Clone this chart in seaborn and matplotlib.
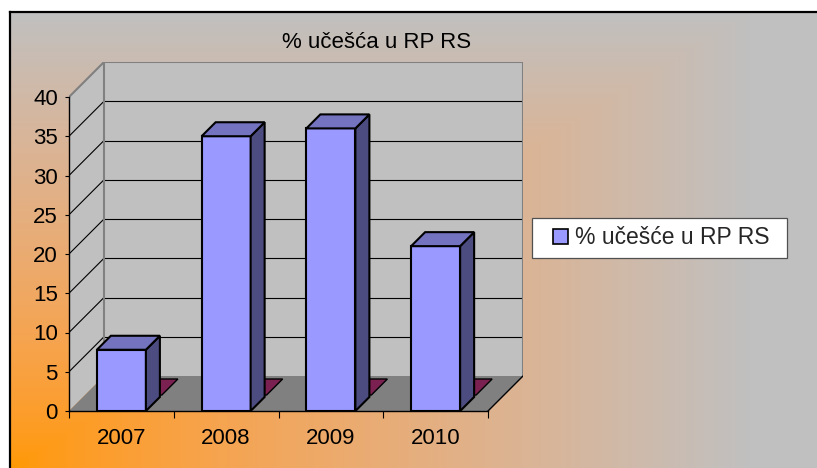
import numpy as np
import matplotlib
matplotlib.use("Agg")
import matplotlib.pyplot as plt
import seaborn as sns
from matplotlib.patches import Polygon, Rectangle, Patch

# ---------------- data ----------------
years = ["2007", "2008", "2009", "2010"]
share = [7.8, 35.0, 36.0, 21.0]          # % učešće u RP RS
series2 = [0.0, 0.0, 0.0, 0.0]           # empty second series (flat maroon tiles)
yticks = [0, 5, 10, 15, 20, 25, 30, 35, 40]
title = "% učešća u RP RS"
legend_label = "% učešće u RP RS"

# ---------------- style ----------------
W, H = 817, 468
sns.set_theme(style="white")
plt.rcParams['font.family'] = ['Liberation Sans', 'DejaVu Sans']

BAR_FRONT = "#9999FF"
BAR_TOP = "#7373C0"
BAR_SIDE = "#4C4C80"
MAROON = "#7A2152"
WALL = "#C0C0C0"
FLOOR = "#808080"
EDGE = "#808080"

fig = plt.figure(figsize=(W / 100, H / 100), dpi=100)
fig.patch.set_facecolor("white")

# background gradient (orange from bottom-left corner -> gray)
bg = fig.add_axes([0, 0, 1, 1], zorder=-10)
yy, xx = np.mgrid[0:H, 0:W]
t = np.maximum((xx - 10) / 740.0, (H - yy) / 456.0).clip(0, 1)
img = np.empty((H, W, 3))
img[..., 0] = (255 - 63 * t ** 1.5) / 255.0
img[..., 1] = (153 + 39 * t) / 255.0
img[..., 2] = (192 * t ** 0.7) / 255.0
img[(xx < 10) | (yy < 12)] = 1.0
bg.imshow(img, extent=(0, W, H, 0), aspect="auto", interpolation="nearest")
bg.set_xlim(0, W)
bg.set_ylim(H, 0)
bg.axis("off")
bg.plot([10, 10], [H + 5, 12], color="black", lw=1.6, solid_capstyle="projecting")
bg.plot([10, W + 5], [12, 12], color="black", lw=1.6, solid_capstyle="projecting")
# legend frame
bg.add_patch(Rectangle((532, 218), 255, 40, facecolor="white", edgecolor="#505050", lw=0.9))

# ---------------- main 3D-ish axes ----------------
x0, x1 = 69, 488        # front floor extent (px)
yb, yt = 411, 97        # value 0 and 40 on front plane (px)
D = 35                  # depth offset (px)
pxx = (x1 - x0) / 4.0
pxy = (yb - yt) / 40.0
Dx, Dy = D / pxx, D / pxy

ax = fig.add_axes([x0 / W, (H - yb) / H, (x1 + D - x0) / W, (yb - (yt - D)) / H])
ax.patch.set_alpha(0)

# walls & floor
ax.add_patch(Polygon([(-0.5, 0), (-0.5 + Dx, Dy), (-0.5 + Dx, 40 + Dy), (-0.5, 40)],
                     closed=True, facecolor=WALL, edgecolor="none", zorder=0))
ax.add_patch(Rectangle((-0.5 + Dx, Dy), 4, 40, facecolor=WALL, edgecolor="none", zorder=0))
ax.add_patch(Polygon([(-0.5, 0), (3.5, 0), (3.5 + Dx, Dy), (-0.5 + Dx, Dy)],
                     closed=True, facecolor=FLOOR, edgecolor="none", zorder=0.5))
for v in yticks[1:-1]:
    ax.plot([-0.5 + Dx, 3.5 + Dx], [v + Dy, v + Dy], color="black", lw=0.8, zorder=0.3)
    ax.plot([-0.5, -0.5 + Dx], [v, v + Dy], color="black", lw=0.8, zorder=0.3)
ax.plot([-0.5, -0.5 + Dx, 3.5 + Dx, 3.5 + Dx], [40, 40 + Dy, 40 + Dy, Dy], color=EDGE, lw=1.5, zorder=0.4)
ax.plot([-0.5 + Dx, -0.5 + Dx], [Dy, 40 + Dy], color=EDGE, lw=1.5, zorder=0.4)
ax.plot([3.5, 3.5 + Dx], [0, Dy], color="black", lw=1.0, zorder=0.6)

# second (empty) series tiles
w = 0.468
d0x, d0y = 16 / pxx, 16 / pxy
d1x, d1y = 32 / pxx, 32 / pxy
for i, v in enumerate(series2):
    ax.add_patch(Polygon([(i - w / 2 + d0x, v + d0y), (i + w / 2 + d0x, v + d0y),
                          (i + w / 2 + d1x, v + d1y), (i - w / 2 + d1x, v + d1y)],
                         closed=True, facecolor=MAROON, edgecolor="black", lw=1.0, zorder=1))

# bars (front faces) via seaborn
sns.barplot(x=years, y=share, color=BAR_FRONT, saturation=1, width=w,
            edgecolor="black", linewidth=1.5, ax=ax, zorder=5)

bdx, bdy = 14 / pxx, 14 / pxy
for i, v in enumerate(share):
    l, r = i - w / 2, i + w / 2
    ax.add_patch(Polygon([(r, 0), (r + bdx, bdy), (r + bdx, v + bdy), (r, v)], closed=True,
                         facecolor=BAR_SIDE, edgecolor="black", lw=1.5, joinstyle="miter", zorder=5))
    ax.add_patch(Polygon([(l, v), (r, v), (r + bdx, v + bdy), (l + bdx, v + bdy)], closed=True,
                         facecolor=BAR_TOP, edgecolor="black", lw=1.5, joinstyle="miter", zorder=5))

ax.set_xlim(-0.5, 3.5 + Dx)
ax.set_ylim(0, 40 + Dy)
ax.set_xlabel("")
ax.set_ylabel("")
for s in ["top", "right"]:
    ax.spines[s].set_visible(False)
for s in ["left", "bottom"]:
    ax.spines[s].set_color("black")
    ax.spines[s].set_linewidth(1.0)
    ax.spines[s].set_zorder(6)
ax.spines["left"].set_bounds(0, 40)
ax.spines["bottom"].set_bounds(-0.5, 3.5)

ax.set_yticks(yticks)
ax.set_yticklabels([str(v) for v in yticks])
ax.tick_params(axis="y", left=True, length=3, width=0.8, pad=5, labelsize=16,
               colors="black", direction="out")
ax.set_xticks(range(len(years)))
ax.set_xticklabels(years)
ax.set_xticks(np.arange(-0.5, 4.0, 1.0), minor=True)
ax.tick_params(axis="x", which="major", bottom=True, length=0, pad=12, labelsize=16, colors="black")
ax.tick_params(axis="x", which="minor", bottom=True, length=5, width=0.8, colors="black")

# title
fig.text(377 / W, 1 - 47.5 / H, title, ha="center", va="baseline", fontsize=16, color="black")

# legend
fig.legend(handles=[Patch(facecolor=BAR_FRONT, edgecolor="black", lw=1.2)], labels=[legend_label],
           loc="center left", bbox_to_anchor=(553 / W, 1 - 238 / H), frameon=False,
           borderpad=0, borderaxespad=0, handlelength=0.66, handleheight=0.66,
           handletextpad=0.28, fontsize=16.5)

fig.savefig("out.png", dpi=100)
